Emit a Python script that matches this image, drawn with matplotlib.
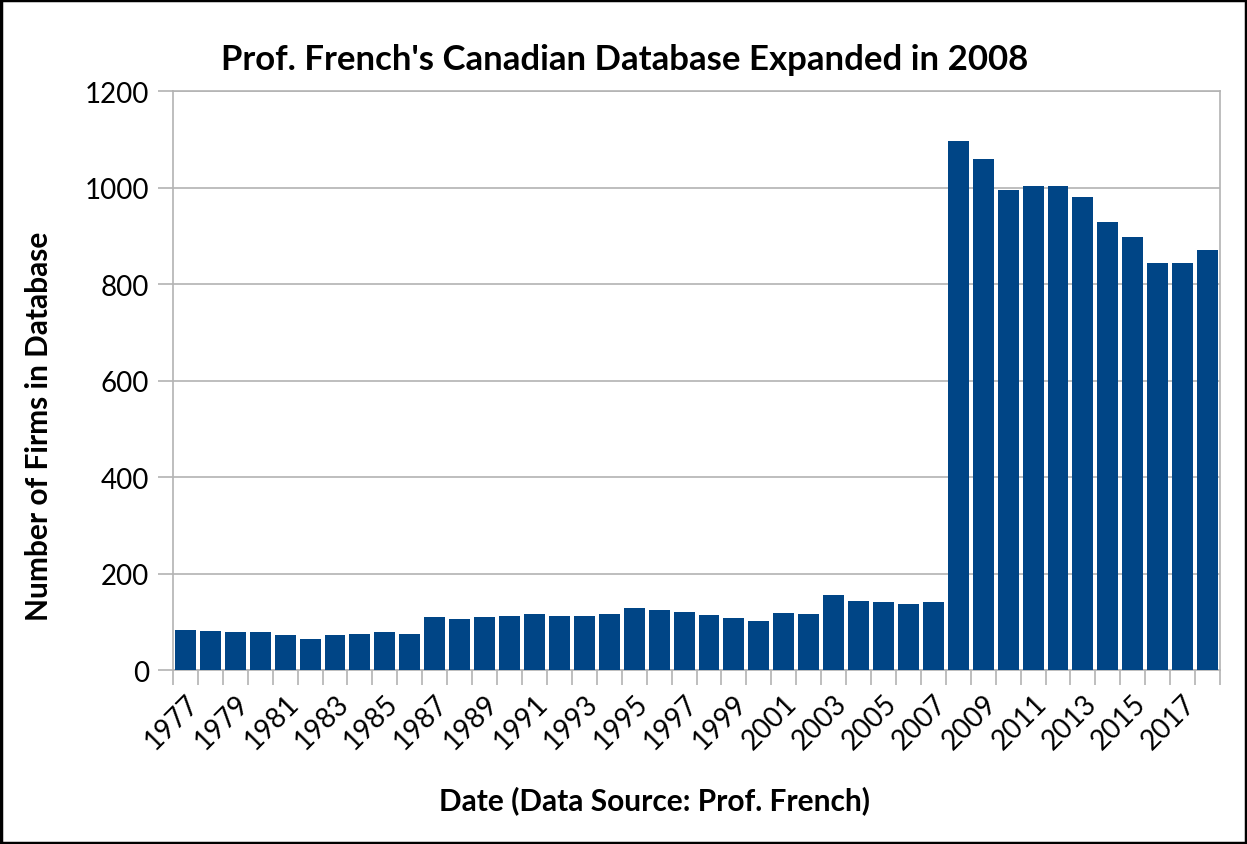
import numpy as np
from matplotlib import pyplot as plt
from matplotlib.patches import Rectangle

years = list(range(1977, 2019))
firms = [84, 82, 79, 79, 73, 65, 73, 75, 79, 75,
         111, 106, 111, 113, 117, 113, 113, 117, 129, 125,
         121, 115, 108, 102, 119, 117, 156, 144, 142, 138,
         142, 1096, 1059, 996, 1003, 1003, 980, 930, 899, 845,
         845, 870]
yticks = [0, 200, 400, 600, 800, 1000, 1200]

plt.rcParams['font.family'] = ['Lato', 'DejaVu Sans']

fig = plt.figure(figsize=(12.47, 8.45), dpi=100)
ax = fig.add_axes([0.1387, 0.2056, 0.8397, 0.6852])

x = np.arange(len(years))
ax.bar(x, firms, width=0.84, color='#004586', zorder=3)

ax.set_xlim(-0.5, len(years) - 0.5)
ax.set_ylim(0, 1200)
ax.set_yticks(yticks)
ax.set_yticklabels([str(v) for v in yticks], fontsize=20)
ax.grid(axis='y', color='#b3b3b3', linewidth=1.2, zorder=0)

# tick marks between categories, labels every other year
ax.set_xticks(np.arange(len(years) + 1) - 0.5)
ax.set_xticklabels([])
ax.set_xticks(x[::2], minor=True)
ax.set_xticklabels([str(y) for y in years[::2]], minor=True, fontsize=20,
                   rotation=45, ha='right', va='top', rotation_mode='anchor')
ax.tick_params(axis='x', which='major', length=11, color='#b3b3b3', width=1.2)
ax.tick_params(axis='x', which='minor', length=0, pad=14)
ax.tick_params(axis='y', length=11, color='#b3b3b3', width=1.2, pad=6)

for s in ax.spines.values():
    s.set_color('#b3b3b3')
    s.set_linewidth(1.2)

fig.text(0.501, 0.929, "Prof. French's Canadian Database Expanded in 2008",
         ha='center', va='center', fontsize=25, fontweight='bold')
fig.text(0.525, 0.053, 'Date (Data Source: Prof. French)',
         ha='center', va='center', fontsize=21.5, fontweight='bold')
fig.text(0.031, 0.496, 'Number of Firms in Database', rotation=90,
         ha='center', va='center', fontsize=21.5, fontweight='bold')

fig.patches.append(Rectangle((0.001, 0.001), 0.998, 0.998, transform=fig.transFigure,
                             fill=False, edgecolor='black', linewidth=2.5))

plt.savefig('out.png')
